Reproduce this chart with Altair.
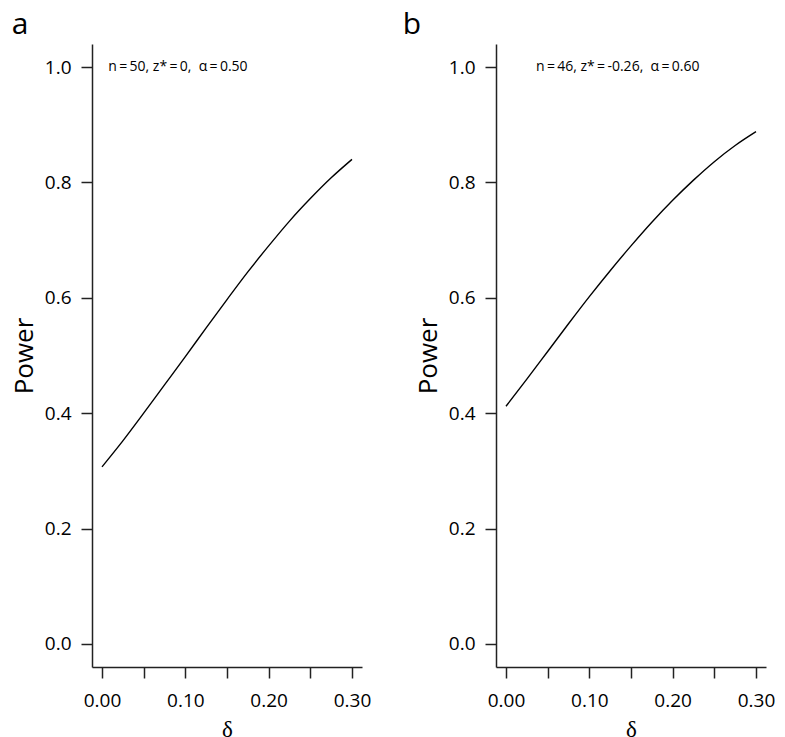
import altair as alt
import pandas as pd

# values
delta = [0.0, 0.025, 0.05, 0.075, 0.10, 0.125, 0.15, 0.175, 0.20, 0.225, 0.25, 0.275, 0.30]
power_a = [0.307, 0.352, 0.400, 0.449, 0.498, 0.548, 0.597, 0.645, 0.690, 0.733, 0.772, 0.808, 0.840]
power_b = [0.412, 0.459, 0.507, 0.555, 0.602, 0.647, 0.690, 0.731, 0.769, 0.804, 0.836, 0.864, 0.888]

panel_letters = ["a", "b"]
annotations = ["n\u2009=\u200950, z*\u2009=\u20090,\u00a0 \u03b1\u2009=\u20090.50",
               "n\u2009=\u200946, z*\u2009=\u2009-0.26,\u00a0 \u03b1\u2009=\u20090.60"]
annot_x = [0.0076, 0.036]
annot_y = [1.0, 1.0]

x_ticks = [0.0, 0.05, 0.10, 0.15, 0.20, 0.25, 0.30]
y_ticks = [0.0, 0.2, 0.4, 0.6, 0.8, 1.0]

FONT = "Open Sans"
W, H = 270, 623


def panel(letter, power, note, nx, ny, title_dx):
    df = pd.DataFrame({"delta": delta, "power": power})
    x = alt.X("delta:Q",
              scale=alt.Scale(domain=[-0.012, 0.312], nice=False, zero=False),
              axis=alt.Axis(values=x_ticks, title="\u03b4",
                            labelExpr="(round(datum.value*100) % 10 == 0) ? format(datum.value, '.2f') : ''",
                            titleFont="Liberation Serif", titleFontSize=23,
                            titlePadding=8, labelPadding=13))
    y = alt.Y("power:Q",
              scale=alt.Scale(domain=[-0.04, 1.04], nice=False, zero=False),
              axis=alt.Axis(values=y_ticks, format=".1f", title="Power",
                            titleFont=FONT, titleFontSize=26, titlePadding=6.5,
                            labelPadding=10))
    line = alt.Chart(df).mark_line(color="black", strokeWidth=1.4,
                                   interpolate="monotone").encode(x=x, y=y)
    tdf = pd.DataFrame({"delta": [nx], "power": [ny], "t": [note]})
    txt = alt.Chart(tdf).mark_text(align="left", baseline="middle", font=FONT,
                                   fontSize=14, color="black").encode(
        x=alt.X("delta:Q"), y=alt.Y("power:Q"), text="t:N")
    return alt.layer(line, txt).properties(
        width=W, height=H,
        title=alt.TitleParams(letter, anchor="start", frame="bounds", font=FONT,
                              fontSize=30, fontWeight="normal", color="black",
                              baseline="alphabetic", offset=-20, dx=title_dx))


pa = panel(panel_letters[0], power_a, annotations[0], annot_x[0], annot_y[0], 0)
pb = panel(panel_letters[1], power_b, annotations[1], annot_x[1], annot_y[1], -13)

chart = alt.hconcat(pa, pb, spacing=31).properties(
    padding={"left": 3, "top": 2, "right": 0, "bottom": 0}
).configure_view(stroke=None).configure_axis(
    grid=False, domainColor="#222", domainWidth=1.5, tickColor="#222",
    tickWidth=1.5, tickSize=11, labelFont=FONT, labelFontSize=19,
    labelColor="black", titleColor="black", titleFontWeight="normal",
    labelFlush=False, labelOverlap=False
)

chart.save("out.html", embed_options={"renderer": "svg", "actions": False})
